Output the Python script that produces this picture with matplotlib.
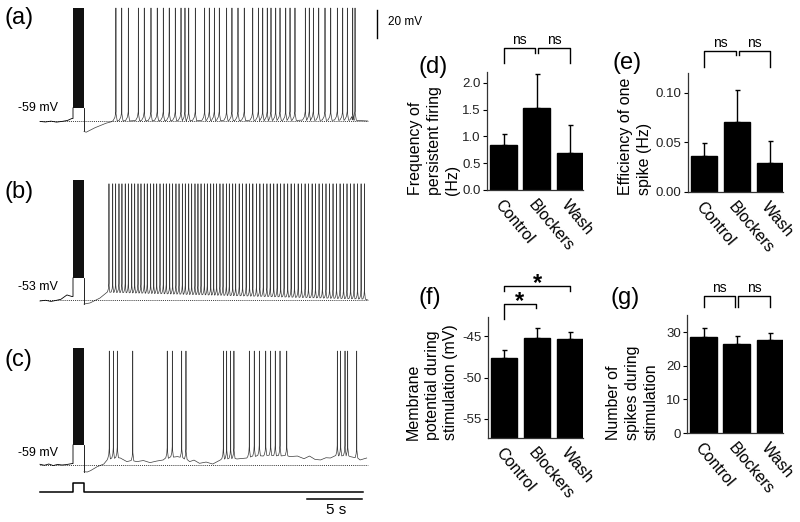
import numpy as np
import matplotlib.pyplot as plt
from matplotlib.transforms import ScaledTranslation

plt.rcParams['font.family'] = ['Liberation Sans', 'DejaVu Sans']

# ---------------- traces (time in s, voltage in mV) ----------------
stim_on, stim_off = 3.0, 4.0
trace_end = 29.8

# (a)
rest_a, peak_a, plateau_a, burst_top_a = -59, 21.7, -49.7, 21.7
pre_a_t = [0, 0.5, 1.0, 1.5, 2.0, 2.5, 2.9]
pre_a_v = [-59.3, -59.7, -59.1, -59.8, -59.3, -58.6, -57.2]
post_a_t = [4.0, 4.2, 5.0, 6.0, 6.5]
post_a_v = [-66.5, -67.0, -63.8, -60.6, -59.5]
spikes_a = [6.90, 7.43, 8.03, 8.94, 9.48, 10.09, 10.66, 11.21, 11.75, 12.30, 12.82,
            13.18, 13.52, 14.12, 14.97, 15.39, 15.85, 16.30, 16.97, 17.45, 18.00,
            18.57, 19.34, 19.85, 20.25, 20.66, 21.00, 21.43, 21.82, 22.34, 22.73,
            23.18, 24.12, 24.48, 24.85, 25.34, 25.91, 26.43, 27.03, 27.52, 27.94,
            28.43, 28.64]

# (b)
rest_b, peak_b, plateau_b, burst_top_b = -53, 30.0, -37.3, 32.7
pre_b_t = [0, 0.5, 1.0, 1.4, 1.9, 2.45, 2.9]
pre_b_v = [-53.7, -53.2, -54.0, -53.4, -52.5, -49.4, -50.5]
post_b_t = [4.0, 4.55, 5.45, 6.1]
post_b_v = [-55.9, -55.1, -51.6, -48.0]
spikes_b = [6.27, 6.61, 6.88, 7.18, 7.45, 7.75, 8.03, 8.34, 8.61, 8.91, 9.18, 9.48,
            9.75, 10.06, 10.34, 10.61, 10.91, 11.21, 11.48, 11.79, 12.06, 12.36,
            12.64, 12.94, 13.21, 13.52, 13.79, 14.09, 14.36, 14.64, 14.94, 15.21,
            15.52, 15.79, 16.06, 16.36, 16.64, 16.94, 17.21, 17.52, 17.79, 18.11,
            18.42, 18.74, 19.05, 19.35, 19.68, 19.99, 20.30, 20.63, 20.93, 21.25,
            21.56, 21.88, 22.19, 22.52, 22.83, 23.14, 23.47, 23.78, 24.10, 24.41,
            24.74, 25.05, 25.37, 25.68, 26.00, 26.33, 26.64, 26.96, 27.28, 27.60,
            27.91, 28.24, 28.55, 28.87, 29.19, 29.50]

# (c)
rest_c, peak_c, plateau_c, burst_top_c = -59, 22.4, -44.7, 24.6
pre_c_t = [0, 0.4, 0.8, 1.2, 1.6, 2.0, 2.4, 2.9]
pre_c_v = [-58.5, -59.2, -58.3, -59.4, -58.6, -59.0, -58.7, -58.0]
post_c_t = [4.0, 4.3, 4.6, 5.2, 5.8, 6.1, 7.3, 7.9, 8.8, 9.4, 10.0, 10.6, 11.2,
            12.5, 13.6, 14.0, 14.5, 15.1, 15.7, 16.4, 17.9, 18.8, 20.3, 21.5, 22.7,
            23.4, 24.0, 24.5, 25.0, 25.5, 26.0, 26.4, 27.0, 28.2, 29.1, 29.7]
post_c_v = [-63.8, -64.0, -63.0, -60.2, -58.3, -55.4, -54.0, -56.6, -56.6, -55.8,
            -57.3, -56.2, -55.4, -53.0, -56.6, -55.5, -57.8, -56.9, -58.3, -55.4,
            -54.7, -54.0, -52.6, -53.0, -53.0, -52.6, -54.5, -52.6, -55.0, -55.4,
            -53.8, -54.0, -53.0, -53.0, -55.4, -54.0]
spikes_c = [6.3, 6.67, 7.03, 8.43, 11.57, 12.03, 12.88, 13.27, 16.67, 16.97, 17.33,
            17.63, 19.03, 19.48, 19.94, 20.52, 20.97, 21.39, 21.82, 22.43, 27.03,
            27.33, 27.73, 27.97, 28.79]

# stimulus monitor under (c)
stim_t = [0, stim_on, stim_on, stim_off, stim_off, 29.4]
stim_v = [-78.3, -78.3, -71.9, -71.9, -78.3, -78.3]

# ---------------- bar charts ----------------
groups = ['Control', 'Blockers', 'Wash']
freq_mean = [0.83, 1.53, 0.69]
freq_err = [0.22, 0.63, 0.52]
eff_mean = [0.036, 0.071, 0.029]
eff_err = [0.013, 0.032, 0.022]
vm_mean = [-47.7, -45.2, -45.3]
vm_err = [1.0, 1.2, 0.8]
nspk_mean = [28.7, 26.6, 27.8]
nspk_err = [2.6, 2.4, 2.1]

W, H = 800, 522
fig = plt.figure(figsize=(8, 5.22), dpi=100)


def px_rect(x, y, w, h):
    return [x / W, 1 - (y + h) / H, w / W, h / H]


def build_post(base_t, base_v, spikes, peak, adp, before, after):
    pts = [(t, v) for t, v in zip(base_t, base_v)
           if all(not (s - before - 0.05 < t < s + after + 0.05) for s in spikes)]
    bt = np.array(base_t)
    bv = np.array(base_v)
    for s in spikes:
        vb = np.interp(s, bt, bv)
        pts += [(s - before, vb + 0.8), (s - before * 0.35, vb + adp * 0.45),
                (s - 0.01, vb + adp), (s, peak), (s + 0.012, vb + adp * 0.8),
                (s + after, vb + 0.5)]
    pts.sort()
    return [p[0] for p in pts], [p[1] for p in pts]


def draw_trace(ax, rest, peak, plateau, btop, pre_t, pre_v, post_t, post_v,
               spikes, adp, before, after, label_v, label):
    kw = dict(color='black', lw=0.6)
    ax.plot(pre_t + [stim_on, stim_on], pre_v + [pre_v[-1], plateau], **kw)
    ax.fill_between([stim_on, stim_off], plateau, btop, color='#111111', lw=0)
    ax.plot([stim_off, stim_off, post_t[0]], [plateau, post_v[0], post_v[0]], **kw)
    # flat rest after recovery when no baseline given
    if post_t[-1] < spikes[0]:
        post_t = post_t + [trace_end]
        post_v = post_v + [rest]
    tt, vv = build_post(post_t, post_v, spikes, peak, adp, before, after)
    ax.plot(tt, vv, color='#3a3a3a', lw=0.5)
    ax.plot([0, trace_end], [rest, rest], color='black', lw=0.6, ls=(0, (1, 1.3)))
    ax.text(1.6, label_v, label, fontsize=9, ha='right', va='center')
    ax.set_xlim(-40 / 11, 360 / 11)
    ax.axis('off')


ax_a = fig.add_axes(px_rect(0, 0, 400, 135))
ax_a.set_ylim(-59 - 14 / 1.4, -59 + 121 / 1.4)
draw_trace(ax_a, rest_a, peak_a, plateau_a, burst_top_a, pre_a_t, pre_a_v,
           post_a_t, post_a_v, spikes_a, 7.0, 0.25, 0.12, -49.7, '-59 mV')
ax_a.plot([30.6, 30.6], [0.3, 20.3], color='black', lw=1)
ax_a.text(31.6, 11.7, '20 mV', fontsize=8.5, va='center', ha='left')

ax_b = fig.add_axes(px_rect(0, 140, 400, 170))
ax_b.set_ylim(-53 - 10 / 1.4, -53 + 160 / 1.4)
draw_trace(ax_b, rest_b, peak_b, plateau_b, burst_top_b, pre_b_t, pre_b_v,
           post_b_t, post_b_v, spikes_b, 7.0, 0.14, 0.08, -43.7, '-53 mV')

ax_c = fig.add_axes(px_rect(0, 310, 400, 212))
ax_c.set_ylim(-59 - 57 / 1.4, -59 + 155 / 1.4)
draw_trace(ax_c, rest_c, peak_c, plateau_c, burst_top_c, pre_c_t, pre_c_v,
           post_c_t, post_c_v, spikes_c, 8.0, 0.14, 0.1, -50.4, '-59 mV')
ax_c.plot(stim_t, stim_v, color='black', lw=1.1)
ax_c.plot([24.3, 29.3], [-83.3, -83.3], color='black', lw=1.1)
ax_c.text(26.9, -86.5, '5 s', fontsize=11, ha='center', va='top')

for lab, x, y in [('(a)', 4, 18), ('(b)', 4, 192), ('(c)', 4, 360)]:
    fig.text(x / W, 1 - y / H, lab, fontsize=17, va='center', ha='left')

# ---------------- bars ----------------
xpos = np.arange(1, 4)


def bar_panel(rect, means, errs, ylim, yticks, fmt, ylabel, label_xy, lab_lines_x,
              lab_bottom):
    ax = fig.add_axes(px_rect(*rect))
    lo = ylim[0]
    ax.bar(xpos, np.array(means) - lo, bottom=lo, width=0.8, color='black',
           edgecolor='black')
    ax.errorbar(xpos, means, yerr=[np.zeros(3), errs], fmt='none', ecolor='black',
                elinewidth=1, capsize=1.8, capthick=1)
    ax.set_xlim(0.5, 3.4)
    ax.set_ylim(*ylim)
    ax.set_yticks(yticks)
    ax.set_yticklabels([fmt.format(v) for v in yticks], fontsize=9.5, color='#222222')
    ax.set_xticks(xpos)
    ax.set_xticklabels(groups, fontsize=11.5, rotation=-50, ha='left', va='top',
                       rotation_mode='anchor')
    off = ScaledTranslation(-11 / 100, 0, fig.dpi_scale_trans)
    for t in ax.get_xticklabels():
        t.set_transform(t.get_transform() + off)
    ax.tick_params(axis='x', length=0, pad=5)
    ax.tick_params(axis='y', direction='out', length=3, width=0.8, pad=1.5)
    for s in ['top', 'right']:
        ax.spines[s].set_visible(False)
    for s in ['left', 'bottom']:
        ax.spines[s].set_linewidth(0.9)
        ax.spines[s].set_color('#333333')
    fig.text(lab_lines_x / W, 1 - lab_bottom / H, ylabel, rotation=90, fontsize=11.5,
             ha='center', va='bottom', multialignment='left', linespacing=1.3)
    fig.text(label_xy[0] / W, 1 - label_xy[1] / H, label_xy[2], fontsize=17,
             va='center', ha='left')
    return ax


def bracket(ax, x1, x2, ytop, yl1, yl2, text, size=10, weight='normal', dy=0):
    ax.plot([x1, x1, x2, x2], [yl1, ytop, ytop, yl2], color='black', lw=1,
            clip_on=False)
    ax.text((x1 + x2) / 2, ytop + dy, text, ha='center', va='bottom', fontsize=size,
            fontweight=weight, clip_on=False)


ax_d = bar_panel((487, 72, 96, 118), freq_mean, freq_err, (0, 2.2),
                 [0, 0.5, 1.0, 1.5, 2.0], '{:.1f}',
                 'Frequency of\npersistent firing\n(Hz)', (418, 67, '(d)'), 434, 195)
bracket(ax_d, 1.0, 1.95, 2.65, 2.36, 2.56, 'ns', dy=0.02)
bracket(ax_d, 2.05, 3.0, 2.65, 2.56, 2.36, 'ns', dy=0.02)

ax_e = bar_panel((688, 73, 95, 119), eff_mean, eff_err, (0, 0.12),
                 [0, 0.05, 0.10], '{:.2f}',
                 'Efficiency of one\nspike (Hz)', (612, 63, '(e)'), 635, 195)
bracket(ax_e, 1.0, 1.95, 0.1424, 0.126, 0.138, 'ns', dy=0.001)
bracket(ax_e, 2.05, 3.0, 0.1424, 0.138, 0.126, 'ns', dy=0.001)

ax_f = bar_panel((488, 317, 95, 121), vm_mean, vm_err, (-57.3, -42.7),
                 [-55, -50, -45], '{:.0f}',
                 'Membrane\npotential during\nstimulation (mV)', (418, 298, '(f)'),
                 432, 440)
bracket(ax_f, 1.0, 1.95, -41.1, -43.0, -41.6, '*', size=17, weight='bold', dy=-1.1)
bracket(ax_f, 1.0, 3.0, -39.0, -39.6, -39.6, '*', size=17, weight='bold', dy=-1.1)

ax_g = bar_panel((687, 315, 96, 118), nspk_mean, nspk_err, (0, 35.2),
                 [0, 10, 20, 30], '{:.0f}',
                 'Number of\nspikes during\nstimulation', (611, 298, '(g)'), 632, 440)
bracket(ax_g, 1.0, 1.95, 40.9, 37.6, 37.6, 'ns', dy=0.3)
bracket(ax_g, 2.05, 3.0, 40.9, 37.6, 37.6, 'ns', dy=0.3)

fig.savefig('out.png', dpi=100)
